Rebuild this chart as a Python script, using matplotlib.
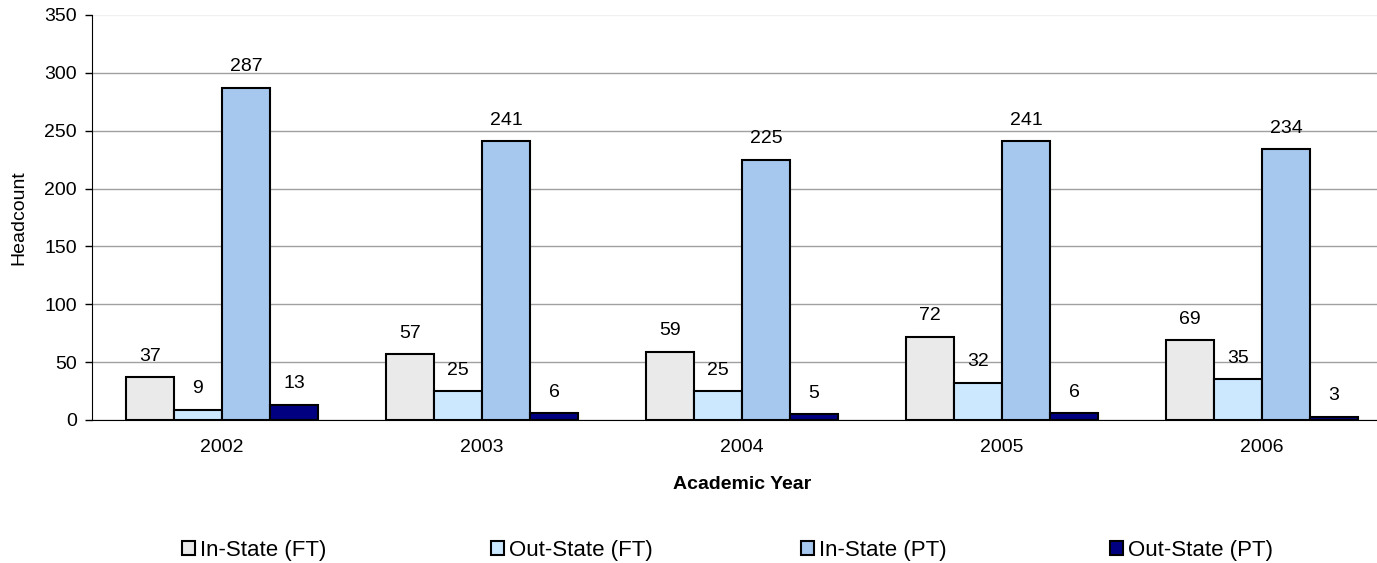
import numpy as np
import matplotlib.pyplot as plt
from matplotlib.patches import Patch

plt.rcParams['font.family'] = ['Liberation Sans', 'DejaVu Sans']

annees = ['2002', '2003', '2004', '2005', '2006']
series = ['In-State (FT)', 'Out-State (FT)', 'In-State (PT)', 'Out-State (PT)']
in_state_ft = [37, 57, 59, 72, 69]
out_state_ft = [9, 25, 25, 32, 35]
in_state_pt = [287, 241, 225, 241, 234]
out_state_pt = [13, 6, 5, 6, 3]

valeurs = [in_state_ft, out_state_ft, in_state_pt, out_state_pt]
couleurs = ['#EAEAEA', '#CCE8FF', '#A6C8EE', '#000080']

fig = plt.figure(figsize=(13.77, 5.63), dpi=100)
ax = fig.add_axes([0.0668, 0.254, 0.944, 0.7194])

x = np.arange(len(annees))
largeur = 0.185
for i, (v, c) in enumerate(zip(valeurs, couleurs)):
    pos = x + (i - 1.5) * largeur
    ax.bar(pos, v, largeur, color=c, edgecolor='black', linewidth=1.5, zorder=3)
    for px, val in zip(pos, v):
        ax.annotate(str(val), xy=(px, val), xytext=(0, 9), textcoords='offset points',
                    ha='center', va='bottom', fontsize=14)

ax.set_xlim(-0.5, len(annees) - 0.5)
ax.set_ylim(0, 350)
ax.set_yticks(range(0, 351, 50))
ax.set_xticks(x)
ax.set_xticklabels(annees)
ax.tick_params(axis='both', labelsize=14)
ax.tick_params(axis='x', length=0, pad=14)
ax.tick_params(axis='y', length=5, width=1, direction='out', pad=6)
ax.grid(axis='y', color='#A0A0A0', linewidth=1, zorder=0)
# la ligne du haut est presque invisible dans l'original
ax.get_ygridlines()[-1].set_color('#F0F0F0')
ax.spines['top'].set_visible(False)
ax.spines['right'].set_visible(False)

ax.set_xlabel('Academic Year', fontsize=14, fontweight='bold', labelpad=14)
ax.set_ylabel('Headcount', fontsize=14, labelpad=12)

# légende : entrées réparties régulièrement comme dans Excel
positions_x = [182, 491, 801, 1110]
for nom, c, px in zip(series, couleurs, positions_x):
    h = Patch(facecolor=c, edgecolor='black', linewidth=1.5)
    fig.legend([h], [nom], loc='center left', bbox_to_anchor=(px / 1377, 0.023),
               frameon=False, fontsize=16, handlelength=0.6, handleheight=0.6,
               handletextpad=0.2, borderpad=0, borderaxespad=0)

fig.savefig('out.png', dpi=100)
